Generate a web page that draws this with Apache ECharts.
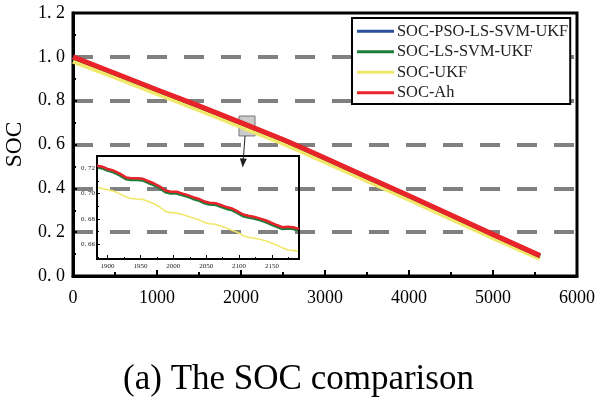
<!DOCTYPE html>
<html><head><meta charset="utf-8">
<script src="https://cdn.jsdelivr.net/npm/echarts@6/dist/echarts.min.js"></script>
<style>html,body{margin:0;padding:0;background:#fff}#c{width:597px;height:398px}</style>
</head><body><div id="c"></div>
<script>
// ---- data ----
const seriesNames = ['SOC-PSO-LS-SVM-UKF', 'SOC-LS-SVM-UKF', 'SOC-UKF', 'SOC-Ah'];
const mainX = [0, 500, 1000, 1500, 2000, 2500, 2700, 3000, 3500, 4000, 4500, 5000, 5560];
const mainAh  = [1.000, 0.925, 0.850, 0.776, 0.700, 0.623, 0.590, 0.538, 0.452, 0.366, 0.278, 0.190, 0.093];
const mainPSO = [0.999, 0.924, 0.849, 0.775, 0.699, 0.622, 0.589, 0.537, 0.451, 0.365, 0.277, 0.189, 0.092];
const mainLS  = [0.998, 0.923, 0.848, 0.774, 0.698, 0.621, 0.588, 0.536, 0.450, 0.364, 0.276, 0.188, 0.091];
const mainUKF = [0.980, 0.908, 0.833, 0.759, 0.683, 0.606, 0.573, 0.521, 0.436, 0.350, 0.262, 0.175, 0.080];

const insetX = [1884, 1892, 1900, 1909, 1918, 1928, 1936, 1945, 1953, 1962, 1970, 1979, 1988, 1996, 2005, 2014, 2022, 2030, 2038, 2046, 2055, 2064, 2072, 2080, 2088, 2097, 2106, 2114, 2122, 2131, 2140, 2148, 2157, 2166, 2174, 2182, 2191];
const insetAh = [0.7220, 0.7212, 0.7195, 0.7182, 0.7160, 0.7128, 0.7122, 0.7122, 0.7118, 0.7098, 0.7082, 0.7058, 0.7025, 0.7015, 0.7015, 0.7000, 0.6988, 0.6972, 0.6960, 0.6940, 0.6928, 0.6925, 0.6910, 0.6895, 0.6885, 0.6862, 0.6835, 0.6825, 0.6818, 0.6805, 0.6790, 0.6772, 0.6752, 0.6735, 0.6738, 0.6735, 0.6722];
const insetPSO = [0.7216, 0.7208, 0.7191, 0.7178, 0.7156, 0.7124, 0.7118, 0.7118, 0.7114, 0.7094, 0.7078, 0.7054, 0.7021, 0.7011, 0.7011, 0.6996, 0.6984, 0.6968, 0.6956, 0.6936, 0.6924, 0.6921, 0.6906, 0.6891, 0.6881, 0.6858, 0.6831, 0.6821, 0.6814, 0.6801, 0.6786, 0.6768, 0.6748, 0.6731, 0.6734, 0.6731, 0.6718];
const insetLS = [0.7210, 0.7201, 0.7184, 0.7170, 0.7148, 0.7116, 0.7110, 0.7110, 0.7106, 0.7086, 0.7070, 0.7046, 0.7013, 0.7003, 0.7003, 0.6988, 0.6976, 0.6960, 0.6948, 0.6928, 0.6916, 0.6913, 0.6898, 0.6883, 0.6873, 0.6850, 0.6823, 0.6813, 0.6806, 0.6793, 0.6778, 0.6760, 0.6740, 0.6723, 0.6726, 0.6723, 0.6710];
const insetUKF = [0.7050, 0.7040, 0.7030, 0.7020, 0.7000, 0.6975, 0.6962, 0.6958, 0.6955, 0.6938, 0.6922, 0.6895, 0.6860, 0.6850, 0.6846, 0.6835, 0.6822, 0.6808, 0.6795, 0.6775, 0.6762, 0.6758, 0.6745, 0.6730, 0.6712, 0.6695, 0.6670, 0.6655, 0.6650, 0.6640, 0.6628, 0.6612, 0.6595, 0.6572, 0.6555, 0.6552, 0.6541];

const insetXTicks = [1900, 1950, 2000, 2050, 2100, 2150];
const insetXMinor = [1925, 1975, 2025, 2075, 2125, 2175];
const insetYTicks = [0.66, 0.68, 0.70, 0.72];
const insetYMinor = [0.65, 0.67, 0.69, 0.71];
const zoomBox = [[1976, 0.730], [2167, 0.639]];
const arrowLine = [[2048, 0.639], [2024, 0.516]];

const colors = {'SOC-PSO-LS-SVM-UKF': '#2d4f9e', 'SOC-LS-SVM-UKF': '#1e7d3a', 'SOC-UKF': '#f0e86a', 'SOC-Ah': '#e8242a'};
const SERIF = 'Liberation Serif';

function zip(xs, ys) { return xs.map((x, i) => [x, ys[i]]); }

const chart = echarts.init(document.getElementById('c'), null, {renderer: 'canvas'});

const mainData = {'SOC-PSO-LS-SVM-UKF': mainPSO, 'SOC-LS-SVM-UKF': mainLS, 'SOC-UKF': mainUKF, 'SOC-Ah': mainAh};
const insetData = {'SOC-PSO-LS-SVM-UKF': insetPSO, 'SOC-LS-SVM-UKF': insetLS, 'SOC-UKF': insetUKF, 'SOC-Ah': insetAh};
const drawOrder = ['SOC-UKF', 'SOC-PSO-LS-SVM-UKF', 'SOC-LS-SVM-UKF', 'SOC-Ah'];
const mainWidth = {'SOC-UKF': 5, 'SOC-PSO-LS-SVM-UKF': 4, 'SOC-LS-SVM-UKF': 4, 'SOC-Ah': 5};
const insetWidth = {'SOC-UKF': 1.6, 'SOC-PSO-LS-SVM-UKF': 2.5, 'SOC-LS-SVM-UKF': 3, 'SOC-Ah': 2.5};

const series = [];
drawOrder.forEach((n, i) => {
  series.push({
    name: n, type: 'line', xAxisIndex: 0, yAxisIndex: 0, showSymbol: false, symbol: 'none',
    data: zip(mainX, mainData[n]), z: 2 + i,
    lineStyle: {color: colors[n], width: mainWidth[n]}, itemStyle: {color: colors[n]}
  });
});
drawOrder.forEach((n, i) => {
  series.push({
    name: n, type: 'line', xAxisIndex: 2, yAxisIndex: 2, showSymbol: false, symbol: 'none',
    data: zip(insetX, insetData[n]), z: 2 + i,
    lineStyle: {color: colors[n], width: insetWidth[n]}, itemStyle: {color: colors[n]}
  });
});
series.push({
  type: 'line', xAxisIndex: 0, yAxisIndex: 0, data: [], z: 20, silent: true,
  markArea: {silent: true, itemStyle: {color: 'rgba(160,160,160,0.55)', borderColor: '#777', borderWidth: 1},
    data: [[{coord: zoomBox[0]}, {coord: zoomBox[1]}]]},
  markLine: {silent: true, symbol: ['none', 'triangle'], symbolSize: [7, 9], label: {show: false},
    lineStyle: {color: '#222', width: 1, type: 'solid'},
    data: [[{coord: arrowLine[0]}, {coord: arrowLine[1]}]]}
});

const option = {
  backgroundColor: '#fff',
  animation: false,
  title: {text: '(a) The SOC comparison', left: 'center', top: 357,
    textStyle: {fontFamily: SERIF, fontSize: 35, fontWeight: 'normal', color: '#000'}},
  legend: {
    data: seriesNames, orient: 'vertical', left: 352, top: 18,
    backgroundColor: '#fff', borderColor: '#000', borderWidth: 2, padding: [3, 2, 1, 5],
    itemWidth: 37, itemHeight: 3, itemGap: 0, icon: 'rect',
    textStyle: {fontFamily: SERIF, fontSize: 16.4, color: '#222', lineHeight: 20.5, padding: [0, 0, 0, -2]}
  },
  grid: [
    {left: 73, right: 20, top: 13, bottom: 122, outerBoundsMode: 'none', containLabel: false, show: true, borderColor: '#000', borderWidth: 3, backgroundColor: 'transparent'},
    {left: 97, right: 298, top: 156, bottom: 139, outerBoundsMode: 'none', containLabel: false, show: true, borderColor: '#000', borderWidth: 2, backgroundColor: 'transparent', z: 5}
  ],
  xAxis: [
    {type: 'value', gridIndex: 0, min: 0, max: 6000, interval: 1000,
      axisLine: {lineStyle: {color: '#000', width: 3}},
      axisTick: {inside: true, length: 6, lineStyle: {color: '#000', width: 2}},
      minorTick: {show: true, splitNumber: 2, length: 4, lineStyle: {color: '#000', width: 2}},
      splitLine: {show: false},
      axisLabel: {fontFamily: SERIF, fontSize: 18, color: '#000', margin: 13, formatter: v => String(v)}},
    {type: 'value', gridIndex: 1, min: 1884, max: 2191, position: 'bottom',
      axisLine: {show: false}, axisTick: {show: true, inside: true, length: 2, customValues: insetXMinor, lineStyle: {color: '#000', width: 1}},
      axisLabel: {show: false}, splitLine: {show: false}},
    {type: 'value', gridIndex: 1, min: 1884, max: 2191, position: 'bottom',
      axisLine: {lineStyle: {color: '#000', width: 2}},
      axisTick: {inside: true, length: 4, customValues: insetXTicks, lineStyle: {color: '#000', width: 1}},
      axisLabel: {fontFamily: SERIF, fontSize: 7, color: '#222', margin: 4, customValues: insetXTicks, formatter: v => String(v)},
      splitLine: {show: false}}
  ],
  yAxis: [
    {type: 'value', gridIndex: 0, min: 0, max: 1.2, interval: 0.2, position: 'left',
      name: 'SOC', nameLocation: 'middle', nameGap: 42, nameRotate: 90,
      nameTextStyle: {fontFamily: SERIF, fontSize: 23.5, color: '#000'},
      axisLine: {lineStyle: {color: '#000', width: 3}},
      axisTick: {inside: true, length: 4, lineStyle: {color: '#000', width: 2}},
      minorTick: {show: true, splitNumber: 2, length: 3, lineStyle: {color: '#000', width: 2}},
      splitLine: {show: true, showMinLine: false, showMaxLine: false, lineStyle: {color: '#808080', width: 4, type: [20, 17]}},
      axisLabel: {fontFamily: SERIF, fontSize: 18, color: '#000', margin: 8,
        formatter: v => v.toFixed(1).replace('.', '. ')}},
    {type: 'value', gridIndex: 1, min: 0.6484, max: 0.7297, position: 'left',
      axisLine: {show: false}, axisTick: {show: true, inside: true, length: 2, customValues: insetYMinor, lineStyle: {color: '#000', width: 1}},
      axisLabel: {show: false}, splitLine: {show: false}},
    {type: 'value', gridIndex: 1, min: 0.6484, max: 0.7297, position: 'left',
      axisLine: {lineStyle: {color: '#000', width: 2}},
      axisTick: {inside: true, length: 3, customValues: insetYTicks, lineStyle: {color: '#000', width: 1}},
      axisLabel: {fontFamily: SERIF, fontSize: 7, color: '#222', margin: 2, customValues: insetYTicks,
        formatter: v => v.toFixed(2).replace('.', '. ')},
      splitLine: {show: false}}
  ],
  series: series
};
chart.setOption(option);
</script>
</body></html>
